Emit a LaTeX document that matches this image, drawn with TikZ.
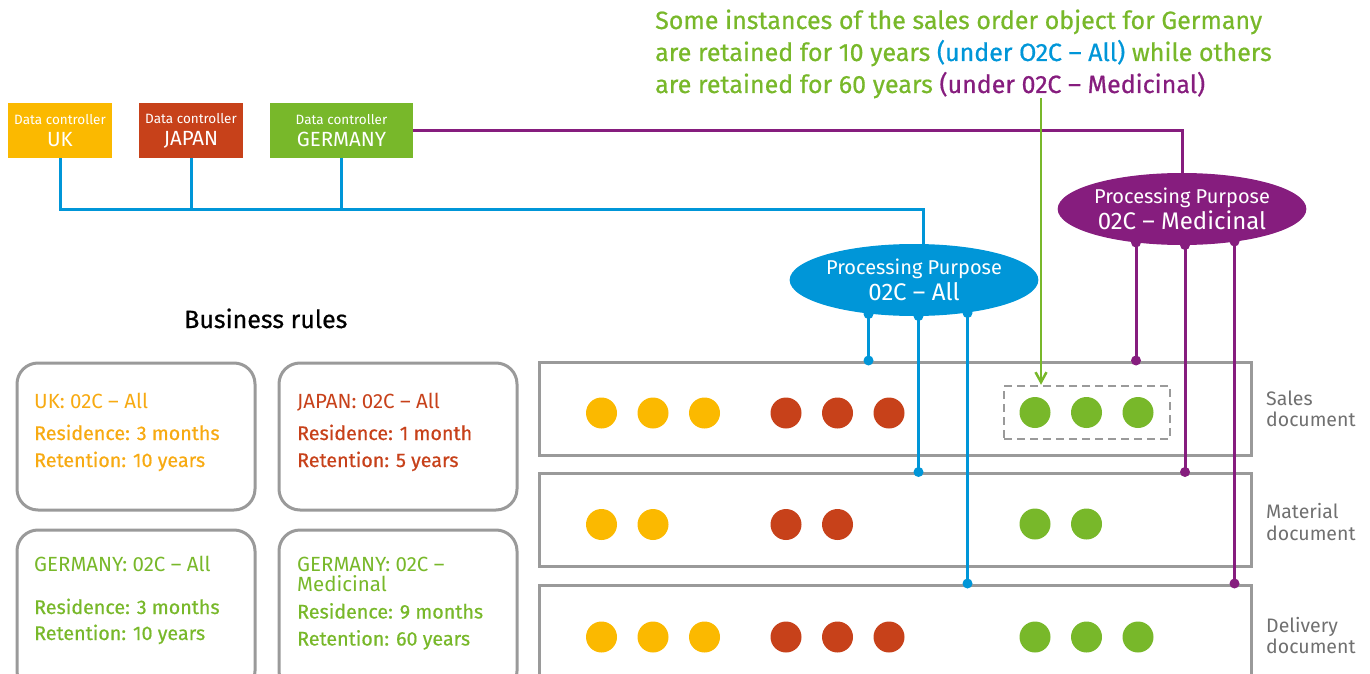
\documentclass[tikz,border=0pt]{standalone}
\usepackage{fontspec}
\setmainfont{Fira Sans}
\newfontfamily\medfont{Fira Sans}[FakeBold=0.6]
\usetikzlibrary{shapes.geometric,arrows.meta,backgrounds}

\definecolor{cuk}{HTML}{FBB900}
\definecolor{cukt}{HTML}{F7AA12}
\definecolor{cjp}{HTML}{C7411A}
\definecolor{cde}{HTML}{78B82A}
\definecolor{cblue}{HTML}{0096D8}
\definecolor{cpur}{HTML}{861D7E}
\definecolor{cgray}{HTML}{9A9A9A}
\definecolor{clabel}{HTML}{707070}

\newcommand{\fs}[2]{\fontsize{#1}{#2}\selectfont}
\newcommand{\ctrllabel}[1]{Data controller\\{\fs{20.5}{22}#1}}

\tikzset{
  ctrl/.style={rectangle, inner sep=0pt, minimum height=55pt, text=white, align=center, font=\fs{13.5}{22}},
  purpose/.style={ellipse, inner sep=0pt, minimum width=240pt, minimum height=72pt, text=white, align=center, font=\fs{20}{26}},
  doc/.style={rectangle, draw=cgray, line width=3pt, minimum width=712pt, minimum height=93pt, inner sep=0pt},
  rulebox/.style={rectangle, draw=cgray, line width=3pt, rounded corners=21pt, minimum width=238pt, inner sep=0pt},
  doclabel/.style={anchor=base west, inner sep=0pt, text=clabel, font=\fs{19.5}{22}},
  ruletext/.style={anchor=base west, inner sep=0pt, font=\fs{20.5}{22}},
  ruledetail/.style={anchor=base west, inner sep=0pt, font=\medfont\fs{19.7}{22}},
  notetext/.style={anchor=base west, inner sep=0pt, text=cde, font=\medfont\fs{25}{32}},
  dotc/.style={circle, inner sep=0pt, minimum size=31pt},
  grpbox/.style={rectangle, draw=cgray, line width=2.5pt, dash pattern=on 8pt off 5pt, minimum width=166pt, minimum height=53pt, inner sep=0pt},
  bline/.style={draw=cblue, line width=3pt},
  pline/.style={draw=cpur, line width=3pt},
  gline/.style={draw=cde, line width=2.5pt, -{Straight Barb[length=10pt,width=11pt,line width=2.5pt]}},
}

\begin{document}
\begin{tikzpicture}[x=1pt,y=-1pt]
\useasboundingbox (0,0) rectangle (1370,674);

% explanatory note
\node[notetext] (note1) at (655,29) {Some instances of the sales order object for Germany};
\node[notetext] (note2) at (655,61) {are retained for 10 years {\color{cblue}(under O2C – All)} while others};
\node[notetext] (note3) at (655,93) {are retained for 60 years {\color{cpur}(under 02C – Medicinal)}};

% data controllers
\node[ctrl, fill=cuk, minimum width=104pt] (uk) at (60,130.5) {\ctrllabel{UK}};
\node[ctrl, fill=cjp, minimum width=104pt] (jp) at (191,130.5) {\ctrllabel{JAPAN}};
\node[ctrl, fill=cde, minimum width=143pt] (de) at (341.5,130.5) {\ctrllabel{GERMANY}};

% processing purposes
\node[purpose, fill=cpur] (pm) at (1182,209) {Processing Purpose\\{\fs{24}{26}02C – Medicinal}};
\node[purpose, fill=cblue] (pa) at (914,280) {Processing Purpose\\{\fs{24}{26}02C – All}};

\coordinate (bj) at (923,209);
\begin{scope}[on background layer]
  \draw[bline] (uk.south) |- (bj) -- (bj |- pa.center);
  \draw[bline] (jp.south) -- (jp.south |- bj);
  \draw[bline] (de.south) -- (de.south |- bj);
  \draw[pline] (de.east) -| (pm.center);
\end{scope}

% business rules
\node[anchor=base west, inner sep=0pt, font=\medfont\fs{25}{28}] (brtitle) at (184,328) {Business rules};

\node[rulebox, minimum height=147pt] (rb1) at (136,436.5) {};
\node[rulebox, minimum height=147pt] (rb2) at (398,436.5) {};
\node[rulebox, minimum height=162pt] (rb3) at (136,611) {};
\node[rulebox, minimum height=162pt] (rb4) at (398,611) {};

\node[ruletext, text=cukt] (r1a) at (34,408) {UK: 02C – All};
\node[ruledetail, text=cukt] (r1b) at (34,440) {Residence: 3 months};
\node[ruledetail, text=cukt] (r1c) at (34,467) {Retention: 10 years};

\node[ruletext, text=cjp] (r2a) at (297,408) {JAPAN: 02C – All};
\node[ruledetail, text=cjp] (r2b) at (297,440) {Residence: 1 month};
\node[ruledetail, text=cjp] (r2c) at (297,467) {Retention: 5 years};

\node[ruletext, text=cde] (r3a) at (34,571) {GERMANY: 02C – All};
\node[ruledetail, text=cde] (r3b) at (34,614) {Residence: 3 months};
\node[ruledetail, text=cde] (r3c) at (34,640) {Retention: 10 years};

\node[ruletext, text=cde] (r4a) at (297,571) {GERMANY: 02C –};
\node[ruletext, text=cde] (r4b) at (297,591) {Medicinal};
\node[ruledetail, text=cde] (r4c) at (297,618.5) {Residence: 9 months};
\node[ruledetail, text=cde] (r4d) at (297,645.5) {Retention: 60 years};

% document types
\node[doc] (sales) at (895,408.5) {};
\node[doc] (material) at (895,520) {};
\node[doc] (delivery) at (895,631.5) {};

\node[doclabel] (ls1) at (1266,405) {Sales};
\node[doclabel] (ls2) at (1266,426) {document};
\node[doclabel] (lm1) at (1266,518) {Material};
\node[doclabel] (lm2) at (1266,540) {document};
\node[doclabel] (ld1) at (1266,632.5) {Delivery};
\node[doclabel] (ld2) at (1266,653) {document};

% data objects
\foreach \x [count=\i] in {601.5,653,704.5} {
  \node[dotc, fill=cuk] (sy\i) at (\x,413) {};
  \node[dotc, fill=cuk] (dy\i) at (\x,637) {};
}
\foreach \x [count=\i] in {786,837.5,889} {
  \node[dotc, fill=cjp] (sr\i) at (\x,413) {};
  \node[dotc, fill=cjp] (dr\i) at (\x,637) {};
}
\foreach \x [count=\i] in {1035,1086.5,1138} {
  \node[dotc, fill=cde] (sg\i) at (\x,412.5) {};
  \node[dotc, fill=cde] (dg\i) at (\x,637) {};
}
\foreach \x [count=\i] in {601.5,653} \node[dotc, fill=cuk] (my\i) at (\x,524.5) {};
\foreach \x [count=\i] in {786,837.5} \node[dotc, fill=cjp] (mr\i) at (\x,524.5) {};
\foreach \x [count=\i] in {1035,1086.5} \node[dotc, fill=cde] (mg\i) at (\x,524) {};

\node[grpbox] (grp) at (1087,412.5) {};

% note arrow
\coordinate (gtop) at (1041,98);
\draw[gline] (gtop) -- (gtop |- grp.north);

% purpose links to document types
\coordinate (a1) at (868.5,314);
\coordinate (a2) at (918.5,316);
\coordinate (a3) at (967.5,313);
\coordinate (b1) at (1136,242.5);
\coordinate (b2) at (1185,245);
\coordinate (b3) at (1234.5,241.5);

\draw[bline] (a1) -- (a1 |- sales.north);
\draw[bline] (a2) -- (a2 |- material.north);
\draw[bline] (a3) -- (a3 |- delivery.north);
\fill[cblue] (a1) circle (5pt) (a2) circle (5pt) (a3) circle (5pt)
  (a1 |- sales.north) circle (5pt) (a2 |- material.north) circle (5pt) (a3 |- delivery.north) circle (5pt);

\draw[pline] (b1) -- (b1 |- sales.north);
\draw[pline] (b2) -- (b2 |- material.north);
\draw[pline] (b3) -- (b3 |- delivery.north);
\fill[cpur] (b1) circle (5pt) (b2) circle (5pt) (b3) circle (5pt)
  (b1 |- sales.north) circle (5pt) (b2 |- material.north) circle (5pt) (b3 |- delivery.north) circle (5pt);
\end{tikzpicture}
\end{document}
